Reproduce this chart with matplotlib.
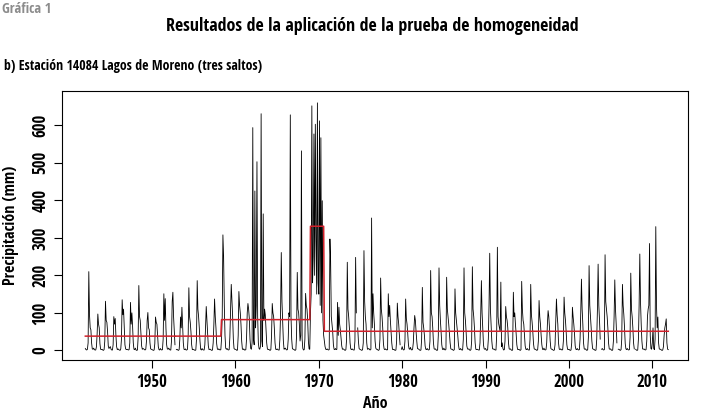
import numpy as np
import matplotlib
matplotlib.use("Agg")
import matplotlib.pyplot as plt
from matplotlib import font_manager as fm

nan = np.nan

# Precipitación mensual (mm) de la estación 14084, ene-1942 a dic-2011
anio_inicial = 1942
precip = [
    [5, 2, 1, 3, 20, 210, 95, 60, 55, 20, 4, 3],          # 1942
    [6, 2, 1, 1, 10, 45, 97, 70, 60, 18, 3, 2],           # 1943
    [3, 1, 0, 2, 25, 131, 80, 75, 50, 12, 5, 8],          # 1944
    [10, 3, 1, 1, 15, 90, 70, 85, 40, 10, 2, 4],          # 1945
    [2, 1, 0, 4, 30, 135, 95, 110, 60, 15, 4, 2],         # 1946
    [3, 2, 1, 2, 20, 128, 70, 100, 65, 20, 3, 2],         # 1947
    [6, 1, 0, 1, 35, 173, 90, 80, 45, 12, 3, 5],          # 1948
    [4, 2, 1, 3, 25, 80, 101, 60, 55, 20, 4, 3],          # 1949
    [2, 1, 0, 1, 18, 89, 75, 70, 40, 10, 2, 1],           # 1950
    [5, 2, 1, 2, 30, 151, 80, 138, 60, 15, 4, 3],         # 1951
    [6, 3, 1, 1, 25, 130, 155, 90, 50, 15, nan, 2],       # 1952
    [3, 1, 0, 2, 30, 89, 60, 115, 70, 20, 3, 2],          # 1953
    [4, 1, 1, 3, 40, 167, 90, 75, 50, 15, 2, 3],          # 1954
    [2, 1, 0, 1, 30, 186, 110, 90, 60, 25, 3, 1],         # 1955
    [5, 2, 1, 1, 15, 60, 117, 80, 45, 12, 2, 3],          # 1956
    [3, 1, 0, 1, 20, 70, 137, 90, 60, 18, 4, 2],          # 1957
    [4, 2, 1, 2, 30, 90, 308, 250, 120, 40, 6, 3],        # 1958
    [5, 2, 1, 2, 35, 110, 176, 130, 90, 30, 5, 3],        # 1959
    [3, 2, 0, 1, 40, 157, 120, 100, 70, 25, 4, 2],        # 1960
    [4, 1, 1, 2, 30, 100, 125, 110, 85, 30, 5, 3],        # 1961
    [20, 594, 30, 15, 425, 60, 120, 503, 90, 20, 5, 3],   # 1962
    [10, 631, 25, 10, 364, 80, 110, 95, 60, 20, 4, 2],    # 1963
    [3, 1, 0, 2, 40, 125, 100, 90, 60, 20, 3, 2],         # 1964
    [4, 2, 1, 1, 30, 100, 261, 130, 80, 25, 3, 5],        # 1965
    [6, 2, 1, 3, 30, 100, 90, 628, 90, 30, 5, 3],         # 1966
    [3, 1, 0, 2, 40, 208, 110, 100, 70, 25, 40, 532],     # 1967
    [30, 5, 1, 2, 30, 152, 120, 110, 80, 25, 4, 3],       # 1968
    [100, 150, 652, 180, 250, 577, 200, 603, 300, 150, 660, 180],  # 1969
    [150, 612, 120, 567, 100, 399, 80, 40, 25, 10, 3, 2],          # 1970
    [4, 2, 1, 2, 297, 239, 90, 70, 50, 15, 3, 2],         # 1971
    [5, 2, 3, 128, 40, 115, 70, 55, 35, 12, 3, 4],        # 1972
    [3, 1, 0, 2, 30, 235, 110, 90, 60, 20, 4, 2],         # 1973
    [4, 2, 1, 1, 25, 248, 100, nan, 60, 25, 5, 3],        # 1974
    [2, 1, 0, 2, 20, 266, 130, 90, 70, 20, 3, 4],         # 1975
    [5, 2, 1, 3, 353, 60, 151, 100, 70, 25, 6, 3],        # 1976
    [3, 1, 0, 2, 30, 193, 110, 90, 60, 18, 4, 2],         # 1977
    [4, 2, 1, 2, 151, 90, 120, 80, 50, 20, 3, 2],         # 1978
    [3, 1, 0, 1, 25, 126, 90, 70, 40, 15, nan, 3],        # 1979
    [10, 3, 1, 2, 25, 137, 85, 70, 45, 15, 4, 3],         # 1980
    [8, 2, 1, 3, 20, 60, 93, 80, 50, 25, 5, 4],           # 1981
    [3, 1, 0, 1, 30, 168, 75, 60, 40, 12, 3, 2],          # 1982
    [5, 2, 1, 2, 25, 213, 100, 90, 60, 20, 4, 3],         # 1983
    [4, 1, 0, 1, 40, 220, 120, 80, 50, 15, 3, 2],         # 1984
    [6, 2, 1, 3, 195, 110, 90, 70, 45, 20, 4, 3],         # 1985
    [3, 1, 0, 2, 164, 100, 80, 60, 40, 15, 3, 2],         # 1986
    [5, 2, 1, 1, 30, 220, 100, 80, 50, 12, 4, 3],         # 1987
    [4, 1, 0, 2, 25, 223, 110, 90, 60, 20, 3, 2],         # 1988
    [3, 2, 1, 1, 20, 90, 186, 100, 60, 15, 4, 3],         # 1989
    [5, 1, 0, 2, 30, 120, 259, 110, 70, 25, 5, 3],        # 1990
    [4, 2, 1, 1, 40, 275, 90, 70, 60, 50, 182, 10],       # 1991
    [20, 5, 1, 2, 25, 117, 90, 80, 60, 20, 4, 3],         # 1992
    [4, 1, 0, 1, 155, 90, 100, 70, 45, 15, 3, 2],         # 1993
    [3, 1, 0, 2, 184, 110, 80, 70, 40, 12, 3, 2],         # 1994
    [5, 2, 1, 1, 30, 176, 95, 75, 50, 18, 4, 3],          # 1995
    [3, 1, 0, 2, 25, 133, 90, 70, 40, 15, 3, 2],          # 1996
    [6, 2, 1, 2, 20, 70, 106, 90, 60, 25, 5, 3],          # 1997
    [3, 1, 0, 1, 15, 80, 137, 95, 70, 20, 4, 2],          # 1998
    [4, 2, 1, 2, 25, 142, 100, 80, 50, 15, 3, 2],         # 1999
    [3, 1, 0, 1, 20, 115, 90, 70, 45, 12, 3, 2],          # 2000
    [5, 2, 1, 2, 30, 100, 190, 110, 70, 20, 4, 3],        # 2001
    [4, 1, 0, 2, 35, 226, 120, 90, 60, 25, 5, 3],         # 2002
    [3, 1, 0, 1, 30, 110, 230, 120, 80, 30, nan, 3],      # 2003
    [5, 2, 1, 2, 255, 130, 110, 90, 60, 20, 4, 3],        # 2004
    [4, 1, 0, 1, 25, 90, 188, 110, 70, 20, nan, 3],       # 2005
    [3, 1, 0, 2, 30, 176, 120, 95, 60, 18, 4, 2],         # 2006
    [5, 2, 1, 2, 35, 206, 110, 90, 60, 20, 4, nan],       # 2007
    [3, 1, 0, 1, 30, 120, 257, 130, 70, 25, 4, 3],        # 2008
    [4, 2, 1, 2, 25, 90, 110, 120, 285, 40, 5, 3],        # 2009
    [20, 60, 5, 2, 30, 330, 120, 60, 89, 20, 4, 3],       # 2010
    [3, 1, 0, 1, 10, 40, 60, 70, 84, 20, 3, 2],           # 2011
]

# Saltos detectados y medias de cada tramo
cortes = [1942.0, 1958.29, 1969.0, 1970.6, 2012.0]
medias = [38, 82, 331, 51]

serie = np.array(precip, dtype=float).ravel()
t = anio_inicial + np.arange(len(serie)) / 12.0

idx = np.clip(np.searchsorted(cortes, t, side="right") - 1, 0, len(medias) - 1)
media_t = np.array(medias, dtype=float)[idx]
media_t[np.isnan(serie)] = np.nan

# fuente estrecha si hay alguna instalada
nombres = {f.name for f in fm.fontManager.ttflist}
estrecha = [n for n in ("Liberation Sans Narrow", "Open Sans Condensed", "Roboto Condensed",
                        "DejaVu Sans Condensed") if n in nombres]
condensadas = [f.name for f in fm.fontManager.ttflist if f.stretch in ("condensed", "semi-condensed")]
if estrecha:
    plt.rcParams["font.family"] = [estrecha[0], "DejaVu Sans"]
elif condensadas:
    plt.rcParams["font.family"] = [condensadas[0], "DejaVu Sans"]
    plt.rcParams["font.stretch"] = "condensed"
else:
    plt.rcParams["font.family"] = ["DejaVu Sans"]
plt.rcParams["font.weight"] = "bold"

fig = plt.figure(figsize=(7.02, 4.13), dpi=100)
ax = fig.add_axes([0.0883, 0.128, 0.892, 0.652])

ax.plot(t, serie, color="black", lw=0.6)
ax.plot(t, media_t, color="#d0202a", lw=1.1)

ax.set_xlim(1939.2, 2014.3)
ax.set_ylim(-26, 692)
ax.set_xticks([1950, 1960, 1970, 1980, 1990, 2000, 2010])
ax.set_yticks([0, 100, 200, 300, 400, 500, 600])
ax.tick_params(direction="out", length=6, width=0.8, labelsize=12, pad=3)
for lab in ax.get_yticklabels():
    lab.set_rotation(90)
    lab.set_va("center")
for sp in ax.spines.values():
    sp.set_linewidth(0.8)

ax.set_xlabel("Año", fontsize=11.5, fontweight="bold", labelpad=4)
ax.set_ylabel("Precipitación (mm)", fontsize=11.5, fontweight="bold", labelpad=9)

fig.text(0.003, 0.978, "Gráfica 1", fontsize=10.3, fontweight="bold", color="#8c8c8c",
         va="center", ha="left")
fig.text(0.530, 0.938, "Resultados de la aplicación de la prueba de homogeneidad",
         fontsize=13, fontweight="bold", va="center", ha="center")
fig.text(0.006, 0.840, "b) Estación 14084 Lagos de Moreno (tres saltos)",
         fontsize=9.9, fontweight="bold", va="center", ha="left")

fig.savefig("out.png", dpi=100)
